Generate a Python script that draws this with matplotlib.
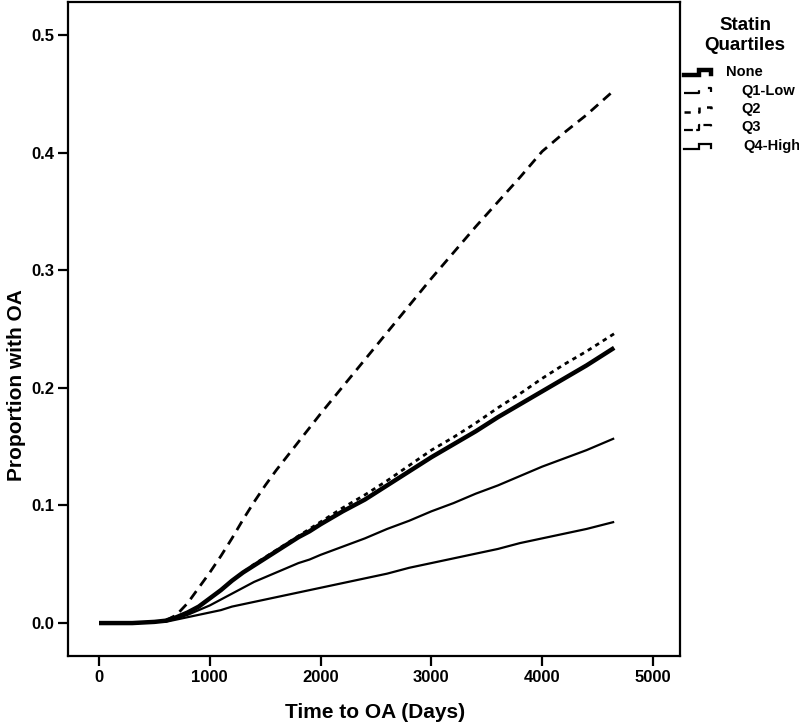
import matplotlib
matplotlib.use("Agg")
import matplotlib.pyplot as plt
import numpy as np

plt.rcParams['font.family'] = ['Liberation Sans', 'DejaVu Sans']

# ---- data ----
days = [0, 300, 500, 600, 700, 800, 900, 1000, 1100, 1200, 1300, 1400, 1500,
        1600, 1700, 1800, 1900, 2000, 2200, 2400, 2600, 2800, 3000, 3200,
        3400, 3600, 3800, 4000, 4200, 4400, 4650]

none_vals = [0, 0, 0.001, 0.002, 0.005, 0.009, 0.014, 0.021, 0.028, 0.036, 0.043,
             0.049, 0.055, 0.061, 0.067, 0.073, 0.078, 0.084, 0.095, 0.105, 0.117,
             0.129, 0.141, 0.152, 0.163, 0.175, 0.186, 0.197, 0.208, 0.219, 0.234]
q1_vals = [0, 0, 0.001, 0.002, 0.004, 0.007, 0.011, 0.015, 0.020, 0.025, 0.030,
           0.035, 0.039, 0.043, 0.047, 0.051, 0.054, 0.058, 0.065, 0.072, 0.080,
           0.087, 0.095, 0.102, 0.110, 0.117, 0.125, 0.133, 0.140, 0.147, 0.157]
q2_vals = [0, 0, 0.001, 0.002, 0.005, 0.009, 0.014, 0.021, 0.028, 0.036, 0.043,
           0.050, 0.056, 0.062, 0.068, 0.074, 0.080, 0.086, 0.098, 0.109, 0.121,
           0.134, 0.147, 0.158, 0.170, 0.183, 0.195, 0.208, 0.220, 0.231, 0.246]
q3_vals = [0, 0, 0.001, 0.002, 0.007, 0.017, 0.030, 0.043, 0.057, 0.072, 0.088,
           0.103, 0.117, 0.130, 0.142, 0.154, 0.166, 0.178, 0.201, 0.224, 0.247,
           0.270, 0.293, 0.315, 0.337, 0.358, 0.379, 0.401, 0.417, 0.432, 0.453]
q4_vals = [0, 0, 0.001, 0.001, 0.003, 0.005, 0.007, 0.009, 0.011, 0.014, 0.016,
           0.018, 0.020, 0.022, 0.024, 0.026, 0.028, 0.030, 0.034, 0.038, 0.042,
           0.047, 0.051, 0.055, 0.059, 0.063, 0.068, 0.072, 0.076, 0.080, 0.086]

series_names = ["None", "Q1-Low", "Q2", "Q3", "Q4-High"]
series_vals = [none_vals, q1_vals, q2_vals, q3_vals, q4_vals]
series_styles = [dict(lw=3.2, ls='-'),
                 dict(lw=1.6, ls='-'),
                 dict(lw=2.0, ls=(0, (1.6, 1.6))),
                 dict(lw=2.0, ls=(0, (3.6, 2.4))),
                 dict(lw=1.6, ls='-')]
legend_styles = [dict(lw=3.2, ls='-'),
                 dict(lw=1.6, ls=(0, (8, 5))),
                 dict(lw=1.8, ls=(0, (2.5, 3))),
                 dict(lw=1.6, ls=(0, (4, 1.5))),
                 dict(lw=1.6, ls='-')]

x_ticks = [0, 1000, 2000, 3000, 4000, 5000]
y_ticks = [0.0, 0.1, 0.2, 0.3, 0.4, 0.5]

W, H = 799, 727
fig = plt.figure(figsize=(W / 100, H / 100), dpi=100)
ax_l, ax_r, ax_t, ax_b = 68, 680, 2, 656
ax = fig.add_axes([ax_l / W, (H - ax_b) / H, (ax_r - ax_l) / W, (ax_b - ax_t) / H])

for vals, st in zip(series_vals, series_styles):
    ax.plot(days, vals, color='black', linestyle=st['ls'], linewidth=st['lw'],
            solid_capstyle='butt', dash_capstyle='butt')

ax.set_xlim(-280, 5244)
ax.set_ylim(-0.028, 0.528)
ax.set_xticks(x_ticks)
ax.set_xticklabels([str(t) for t in x_ticks])
ax.set_yticks(y_ticks)
ax.set_yticklabels([f"{t:.1f}" for t in y_ticks])
for s in ax.spines.values():
    s.set_linewidth(1.6)
ax.tick_params(direction='out', length=7.5, width=1.6, labelsize=12, pad=2.5)
for lab in ax.get_xticklabels() + ax.get_yticklabels():
    lab.set_fontweight('bold')
ax.set_xlabel("Time to OA (Days)", fontsize=15, fontweight='bold')
ax.set_ylabel("Proportion with OA", fontsize=15, fontweight='bold')
ax.xaxis.set_label_coords((375 - ax_l) / (ax_r - ax_l), -(712 - ax_b) / (ax_b - ax_t))
ax.yaxis.set_label_coords(-(ax_l - 17) / (ax_r - ax_l), (ax_b - 385) / (ax_b - ax_t))
ax.xaxis.label.set_va('center')
ax.yaxis.label.set_va('center')

# ---- legend drawn manually in pixel coordinates ----
ov = fig.add_axes([0, 0, 1, 1], facecolor='none')
ov.set_xlim(0, W)
ov.set_ylim(H, 0)
ov.axis('off')
ov.text(745, 25, "Statin", ha='center', va='center', fontsize=13.5, fontweight='bold')
ov.text(745, 45, "Quartiles", ha='center', va='center', fontsize=13.5, fontweight='bold')
ys = [72, 90.5, 109, 127.5, 146]
text_x = [726, 741, 741, 741, 743]
for name, st, y, tx in zip(series_names, legend_styles, ys, text_x):
    gx = [684, 699, 699, 711, 711]
    gy = [y + 2.5, y + 2.5, y - 2.5, y - 2.5, y + 1.5]
    ov.plot(gx, gy, color='black', linestyle=st['ls'], linewidth=st['lw'],
            solid_joinstyle='miter')
    ov.text(tx, y, name, ha='left', va='center', fontsize=10.5, fontweight='bold')

fig.savefig("out.png", dpi=100)
